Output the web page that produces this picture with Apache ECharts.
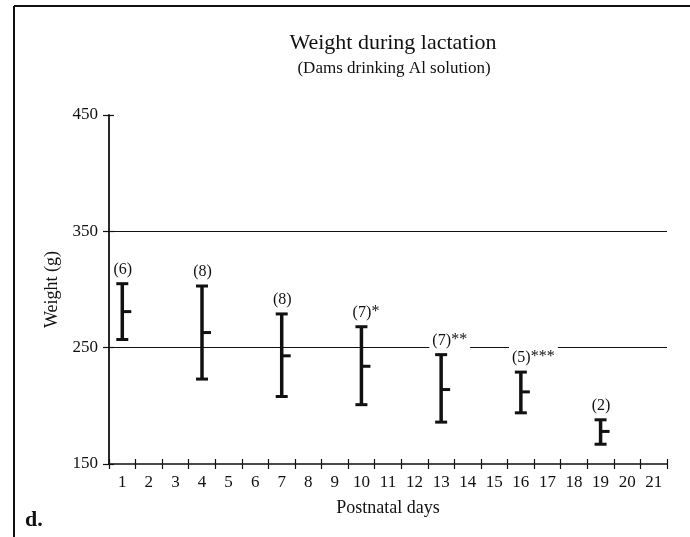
<!DOCTYPE html>
<html><head><meta charset="utf-8">
<script src="https://cdn.jsdelivr.net/npm/echarts@6/dist/echarts.min.js"></script>
<style>html,body{margin:0;padding:0;background:#fff}#c{width:690px;height:537px}</style>
</head><body><div id="c"></div>
<script>
// ---- data ----
var dayLabels = ['1','2','3','4','5','6','7','8','9','10','11','12','13','14','15','16','17','18','19','20','21'];
var days   = ['1','4','7','10','13','16','19'];
var means  = [281, 263, 243, 234, 214, 212, 178];
var lows   = [257, 223, 208, 201, 186, 194, 167];
var highs  = [305, 303, 279, 268, 244, 229, 188];
var nCounts = [6, 8, 8, 7, 7, 5, 2];
var stars   = ['', '', '', '*', '**', '***', ''];
var yTicks  = [150, 250, 350, 450];
var refLines = [250, 350];

var FONT = '"Liberation Serif", "Times New Roman", serif';
var INK = '#111';

var chart = echarts.init(document.getElementById('c'), null, {renderer: 'canvas'});
var data = days.map(function (d, i) { return [d, lows[i], highs[i], means[i]]; });

function renderItem(params, api) {
  var i = params.dataIndex;
  var xi = api.value(0);
  var pLo = api.coord([xi, api.value(1)]);
  var pHi = api.coord([xi, api.value(2)]);
  var pMn = api.coord([xi, api.value(3)]);
  var x = pLo[0];
  var capW = 12;
  var children = [
    {type: 'line', shape: {x1: x, y1: pHi[1], x2: x, y2: pLo[1]}, style: {stroke: INK, lineWidth: 3.5}},
    {type: 'line', shape: {x1: x - capW / 2, y1: pHi[1], x2: x + capW / 2, y2: pHi[1]}, style: {stroke: INK, lineWidth: 3}},
    {type: 'line', shape: {x1: x - capW / 2, y1: pLo[1], x2: x + capW / 2, y2: pLo[1]}, style: {stroke: INK, lineWidth: 3}},
    {type: 'line', shape: {x1: x, y1: pMn[1], x2: x + 9, y2: pMn[1]}, style: {stroke: INK, lineWidth: 3}},
    {type: 'text', x: x, y: pHi[1] - 5, z2: 10, style: {
      text: '(' + nCounts[i] + ')', textAlign: 'center', align: 'center',
      textVerticalAlign: 'bottom', verticalAlign: 'bottom',
      font: '16px ' + FONT, fill: INK, backgroundColor: '#fff', padding: [6, 2, 1, 3]
    }}
  ];
  if (stars[i]) {
    children.push({type: 'text', x: x + 10, y: pHi[1] - 5, z2: 10, style: {
      text: stars[i], textAlign: 'left', align: 'left',
      textVerticalAlign: 'bottom', verticalAlign: 'bottom',
      font: '16px ' + FONT, fill: INK, backgroundColor: '#fff', padding: [6, 3, 2, 0]
    }});
  }
  return {type: 'group', children: children};
}

var labelStyle = {color: INK, fontFamily: FONT, fontSize: 17};

var option = {
  animation: false,
  backgroundColor: '#fff',
  grid: {left: 109, right: 23, top: 115, bottom: 73},
  xAxis: [{
    type: 'category', data: dayLabels, boundaryGap: true,
    axisLine: {lineStyle: {color: INK, width: 1.5}},
    axisTick: {show: true, interval: 0, length: 5, lineStyle: {color: INK, width: 1.2}},
    axisLabel: Object.assign({interval: 0, margin: 10}, labelStyle),
    splitLine: {show: false},
    name: 'Postnatal days', nameLocation: 'middle', nameGap: 35,
    nameTextStyle: {color: INK, fontFamily: FONT, fontSize: 18}
  }, {
    type: 'category', data: dayLabels, boundaryGap: true, position: 'bottom', offset: 0,
    axisLine: {show: false},
    axisTick: {show: true, inside: true, interval: 0, length: 5, lineStyle: {color: INK, width: 1.2}},
    axisLabel: {show: false}, splitLine: {show: false}
  }],
  yAxis: [{
    type: 'value', min: 150, max: 450, interval: 100,
    axisLine: {show: true, lineStyle: {color: INK, width: 1.8}},
    axisTick: {show: true, length: 6, customValues: yTicks, lineStyle: {color: INK, width: 1.2}},
    axisLabel: Object.assign({margin: 11, customValues: yTicks}, labelStyle),
    splitLine: {show: false},
    name: 'Weight (g)', nameLocation: 'middle', nameGap: 48, nameRotate: 90,
    nameTextStyle: {color: INK, fontFamily: FONT, fontSize: 18}
  }, {
    type: 'value', min: 150, max: 450, interval: 100, position: 'left', offset: 0,
    axisLine: {show: false},
    axisTick: {show: true, inside: true, length: 5, customValues: yTicks, lineStyle: {color: INK, width: 1.2}},
    axisLabel: {show: false}, splitLine: {show: false}
  }],
  series: [{
    type: 'line', data: [], z: 1, silent: true,
    markLine: {
      silent: true, symbol: 'none', label: {show: false},
      lineStyle: {color: INK, width: 1.2, type: 'solid'},
      data: refLines.map(function (v) { return {yAxis: v}; })
    }
  }, {
    type: 'custom', z: 5, renderItem: renderItem, data: data,
    encode: {x: 0, y: [1, 2, 3]}
  }],
  graphic: [
    {type: 'line', shape: {x1: 14, y1: 6, x2: 690, y2: 6}, style: {stroke: INK, lineWidth: 2}},
    {type: 'line', shape: {x1: 14, y1: 6, x2: 14, y2: 537}, style: {stroke: INK, lineWidth: 2}},
    {type: 'text', x: 393, y: 54, style: {text: 'Weight during lactation', textAlign: 'center', align: 'center', textVerticalAlign: 'bottom', verticalAlign: 'bottom', font: '22px ' + FONT, fill: INK}},
    {type: 'text', x: 394, y: 77, style: {text: '(Dams drinking Al solution)', textAlign: 'center', align: 'center', textVerticalAlign: 'bottom', verticalAlign: 'bottom', font: '17px ' + FONT, fill: INK}},
    {type: 'text', x: 25, y: 520, style: {text: 'd.', textAlign: 'left', align: 'left', textVerticalAlign: 'middle', verticalAlign: 'middle', font: 'bold 22px ' + FONT, fill: INK}}
  ]
};
chart.setOption(option);
</script>
</body></html>
